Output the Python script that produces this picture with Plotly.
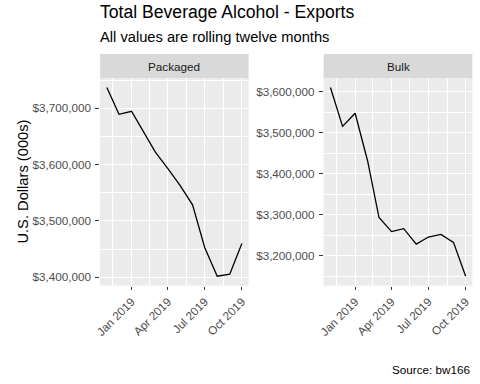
import plotly.graph_objects as go
import pandas as pd

# ---- data ----
months = ["2018-11-01", "2018-12-01", "2019-01-01", "2019-02-01", "2019-03-01", "2019-04-01",
          "2019-05-01", "2019-06-01", "2019-07-01", "2019-08-01", "2019-09-01", "2019-10-01"]
packaged = [3736900, 3689300, 3694600, 3657000, 3622000, 3593000,
            3563000, 3528600, 3452900, 3401800, 3405400, 3460100]
bulk = [3609800, 3515100, 3546900, 3430200, 3293100, 3258800,
        3266100, 3228600, 3245700, 3252200, 3232700, 3150200]
panel_names = ["Packaged", "Bulk"]
x_ticks = ["2019-01-01", "2019-04-01", "2019-07-01", "2019-10-01"]
x_minor = ["2018-11-16", "2019-02-14", "2019-05-16", "2019-08-16"]

title = "Total Beverage Alcohol - Exports"
subtitle = "All values are rolling twelve months"
y_title = "U.S. Dollars (000s)"
caption = "Source: bw166"

W, H = 480, 384
FONT = "Liberation Sans, Arial, sans-serif"

def expand(lo, hi, f=0.05):
    d = (hi - lo) * f
    return lo - d, hi + d

dts = pd.to_datetime(months)
xlo, xhi = dts.min(), dts.max()
xpad = (xhi - xlo) * 0.05
xrange = [(xlo - xpad).isoformat(), (xhi + xpad).isoformat()]

px = lambda v: v / W
py = lambda v: 1 - v / H

x_domains = [[px(95.3), px(245.7)], [px(321.7), px(472.3)]]
y_domain = [py(285.7), py(78)]

fig = go.Figure()
series = [packaged, bulk]
for i, (name, vals) in enumerate(zip(panel_names, series)):
    xa = "x" if i == 0 else "x2"
    ya = "y" if i == 0 else "y2"
    fig.add_trace(go.Scatter(x=months, y=vals, mode="lines",
                             line=dict(color="black", width=1.3),
                             xaxis=xa, yaxis=ya, showlegend=False,
                             hoverinfo="skip"))

axis_common = dict(
    showline=False, zeroline=False,
    showgrid=True, gridcolor="white", gridwidth=1.4,
    ticks="outside", ticklen=3.7, tickwidth=1.1, tickcolor="#333333",
    tickfont=dict(family=FONT, size=11.7, color="#4D4D4D"),
)

layout = dict(
    width=W, height=H,
    margin=dict(l=0, r=0, t=0, b=0),
    paper_bgcolor="white", plot_bgcolor="#EBEBEB",
    showlegend=False,
    font=dict(family=FONT),
)

for i, vals in enumerate(series):
    suffix = "" if i == 0 else "2"
    ylo, yhi = expand(min(vals), max(vals))
    layout["xaxis" + suffix] = dict(
        axis_common,
        domain=x_domains[i], anchor="y" + suffix, type="date",
        range=xrange, tickmode="array", tickvals=x_ticks,
        tickformat="%b %Y", tickangle=-45,
        minor=dict(tickmode="array", tickvals=x_minor, showgrid=True,
                   gridcolor="white", gridwidth=0.7, ticks=""),
    )
    layout["yaxis" + suffix] = dict(
        axis_common,
        domain=y_domain, anchor="x" + suffix,
        range=[ylo, yhi], tickmode="linear", tick0=0, dtick=100000,
        tickformat="$,.0f", ticklabelstandoff=2,
        minor=dict(tickmode="linear", tick0=50000, dtick=100000, showgrid=True,
                   gridcolor="white", gridwidth=0.7, ticks=""),
    )

fig.update_layout(**layout)

shapes = []
annotations = []
for i, name in enumerate(panel_names):
    shapes.append(dict(type="rect", xref="paper", yref="paper",
                       x0=x_domains[i][0], x1=x_domains[i][1],
                       y0=py(78), y1=py(54), fillcolor="#D9D9D9",
                       line=dict(width=0), layer="below"))
    annotations.append(dict(text=name, xref="paper", yref="paper",
                            x=(x_domains[i][0] + x_domains[i][1]) / 2, y=py(66),
                            xanchor="center", yanchor="middle", showarrow=False,
                            font=dict(family=FONT, size=11.7, color="#1A1A1A")))

annotations += [
    dict(text=title, xref="paper", yref="paper", x=px(94.5), y=py(12.3),
         xanchor="left", yanchor="middle", showarrow=False, borderpad=0,
         font=dict(family=FONT, size=17.6, color="black")),
    dict(text=subtitle, xref="paper", yref="paper", x=px(94.5), y=py(37.4),
         xanchor="left", yanchor="middle", showarrow=False, borderpad=0,
         font=dict(family=FONT, size=14.7, color="black")),
    dict(text=y_title, xref="paper", yref="paper", x=px(17), y=py(181.8),
         xanchor="center", yanchor="middle", showarrow=False, textangle=-90,
         borderpad=0, font=dict(family=FONT, size=14.7, color="black")),
    dict(text=caption, xref="paper", yref="paper", x=px(471), y=py(369.2),
         xanchor="right", yanchor="middle", showarrow=False, borderpad=0,
         font=dict(family=FONT, size=11.7, color="black")),
]
fig.update_layout(shapes=shapes, annotations=annotations)

fig.write_html("out.html", config={"displayModeBar": False},
               post_script="document.body.style.margin='0px';document.body.style.overflow='hidden';")
